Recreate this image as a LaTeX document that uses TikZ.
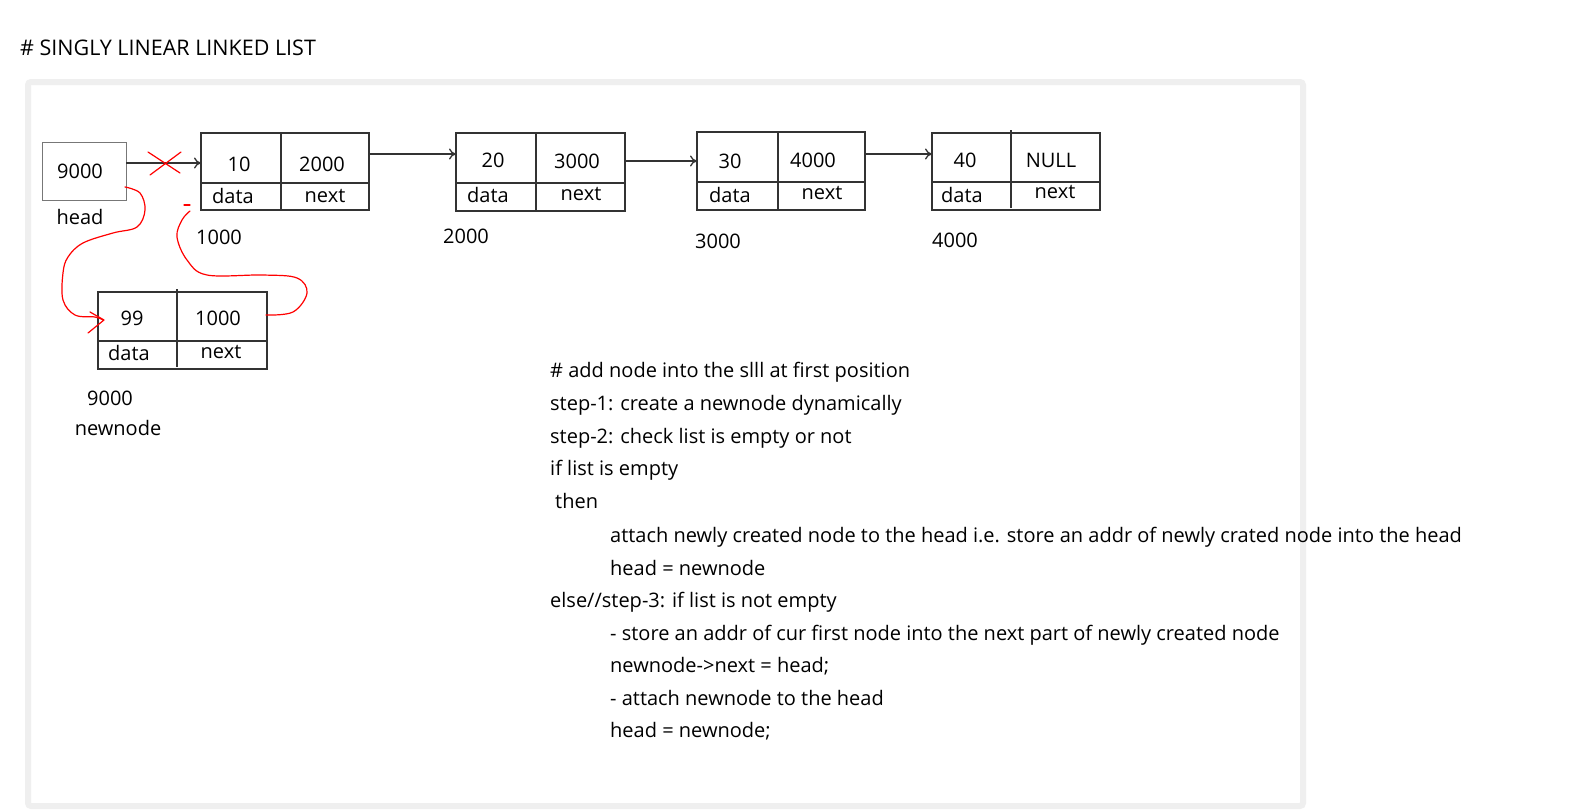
\documentclass[tikz,border=0pt]{standalone}
\usepackage{fontspec}
\setmainfont{Open Sans}
\usetikzlibrary{arrows.meta}
\definecolor{framegray}{HTML}{EFEFEF}
\definecolor{boxline}{HTML}{333333}
\definecolor{headline}{HTML}{777777}
\begin{document}
\begin{tikzpicture}[x=1pt,y=-1pt,
  box/.style={draw=boxline, line width=1.3pt, inner sep=0pt, outer sep=0pt, anchor=north west},
  hbox/.style={draw=headline, line width=1pt, inner sep=0pt, outer sep=0pt, anchor=north west},
  lbl/.style={font=\fontsize{20}{24}\selectfont, inner sep=0pt, anchor=base},
  txt/.style={font=\fontsize{20}{24}\selectfont, inner sep=0pt, anchor=base west},
  arr/.style={draw=boxline, line width=1.3pt, -{To[length=7pt,width=11pt]}},
  divl/.style={draw=boxline, line width=1.3pt},
  redl/.style={draw=red, line width=1.2pt, line cap=round, line join=round}
]
\useasboundingbox (0,0) rectangle (1572,809);
\fill[white] (0,0) rectangle (1572,809);
% frame
\draw[framegray, line width=6pt, rounded corners=3pt] (28,82) rectangle (1303,806);
% title
\node[txt, font=\fontsize{21.5}{25}\selectfont] (title) at (20,55) {\# SINGLY LINEAR LINKED LIST};

% head
\node[hbox, minimum width=84pt, minimum height=58pt] (head) at (42,142) {};
\node[lbl] (headval) at (80,178) {9000};
\node[lbl] (headlbl) at (80,224) {head};

% node 1
\node[box, minimum width=168pt, minimum height=77pt] (n1) at (201,133) {};
\draw[divl] (281,133) -- (281,210);
\draw[divl] (201,183) -- (369,183);
\node[lbl] (n1a) at (239,171) {10};
\node[lbl] (n1b) at (322,171) {2000};
\node[lbl] (n1c) at (233,203) {data};
\node[lbl] (n1d) at (325,202) {next};
\node[lbl] (n1addr) at (219,244) {1000};

% node 2
\node[box, minimum width=169pt, minimum height=78pt] (n2) at (456,133) {};
\draw[divl] (536,133) -- (536,211);
\draw[divl] (456,183) -- (625,183);
\node[lbl] (n2a) at (493,167) {20};
\node[lbl] (n2b) at (577,168) {3000};
\node[lbl] (n2c) at (488,202) {data};
\node[lbl] (n2d) at (581,200) {next};
\node[lbl] (n2addr) at (466,243) {2000};

% node 3
\node[box, minimum width=168pt, minimum height=78pt] (n3) at (697,132) {};
\draw[divl] (778,132) -- (778,210);
\draw[divl] (697,182) -- (865,182);
\node[lbl] (n3a) at (730,168) {30};
\node[lbl] (n3b) at (813,167) {4000};
\node[lbl] (n3c) at (730,202) {data};
\node[lbl] (n3d) at (822,199) {next};
\node[lbl] (n3addr) at (718,248) {3000};

% node 4
\node[box, minimum width=168pt, minimum height=77pt] (n4) at (932,133) {};
\draw[divl] (1011,130) -- (1011,208);
\draw[divl] (932,182) -- (1100,182);
\node[lbl] (n4a) at (965,167) {40};
\node[lbl] (n4b) at (1051,167) {NULL};
\node[lbl] (n4c) at (962,202) {data};
\node[lbl] (n4d) at (1055,198) {next};
\node[lbl] (n4addr) at (955,247) {4000};

% new node
\node[box, minimum width=169pt, minimum height=77pt] (nn) at (98,292) {};
\draw[divl] (177,289) -- (177,367);
\draw[divl] (98,341) -- (267,341);
\node[lbl] (nna) at (132,325) {99};
\node[lbl] (nnb) at (218,325) {1000};
\node[lbl] (nnc) at (129,360) {data};
\node[lbl] (nnd) at (221,358) {next};
\node[lbl] (nnaddr) at (110,405) {9000};
\node[lbl] (nnlbl) at (118,435) {newnode};

% links
\draw[arr] (head.east |- 0,163) -- (n1.west |- 0,163);
\draw[arr] (n1.east |- 0,154) -- (n2.west |- 0,154);
\draw[arr] (n2.east |- 0,161) -- (n3.west |- 0,161);
\draw[arr] (n3.east |- 0,154) -- (n4.west |- 0,154);

% red cross on old link
\draw[redl] (148,152) -- (180,173);
\draw[redl] (150,175) -- (181,152);

% red curve head -> new node
\draw[redl] plot[smooth, tension=0.6] coordinates {(125,187) (140,193) (145,210) (137,227) (113,233) (83,243) (68,257) (63,273) (63,300) (75,315) (95,317) (103,320)};
\draw[redl] (90,312) -- (104,320) -- (88,333);

% red curve new node next -> node 1
\draw[redl] plot[smooth, tension=0.6] coordinates {(266,315) (293,312) (307,293) (297,278) (263,275) (207,275) (187,260) (177,237) (182,220) (190,211)};
\draw[redl] (184,205) -- (190,205);

% algorithm text
\node[txt] (t1) at (550,377) {\# add node into the slll at first position};
\node[txt] (t2) at (550,410) {step-1: create a newnode dynamically};
\node[txt] (t3) at (550,443) {step-2: check list is empty or not};
\node[txt] (t4) at (550,475) {if list is empty};
\node[txt] (t5) at (555,508) {then};
\node[txt] (t6) at (610,542) {attach newly created node to the head i.e. store an addr of newly crated node into the head};
\node[txt] (t7) at (610,575) {head = newnode};
\node[txt] (t8) at (550,607) {else//step-3: if list is not empty};
\node[txt] (t9) at (610,640) {- store an addr of cur first node into the next part of newly created node};
\node[txt] (t10) at (610,672) {newnode->next = head;};
\node[txt] (t11) at (610,705) {- attach newnode to the head};
\node[txt] (t12) at (610,737) {head = newnode;};
\end{tikzpicture}
\end{document}
